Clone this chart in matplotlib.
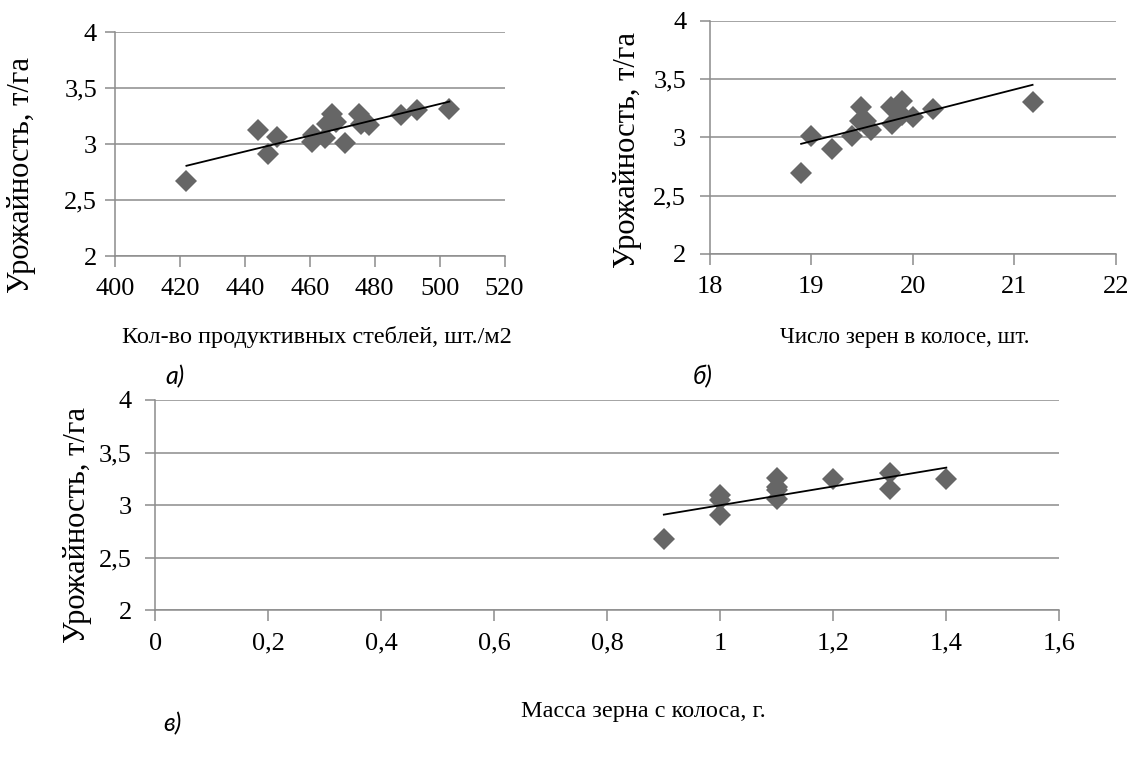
import numpy as np
import matplotlib
matplotlib.use("Agg")
import matplotlib.pyplot as plt
from matplotlib.ticker import FuncFormatter

plt.rcParams['font.family'] = 'serif'
plt.rcParams['font.serif'] = ['Liberation Serif', 'Times New Roman', 'DejaVu Serif']

# ---- data ----
stems = [422, 444, 447, 450, 460.8, 461, 464.8, 465.3, 466.9, 468, 471, 475.2, 475.7, 478.2, 488, 493, 503]
yield_a = [2.67, 3.125, 2.91, 3.065, 3.02, 3.08, 3.05, 3.18, 3.27, 3.20, 3.01, 3.27, 3.18, 3.17, 3.26, 3.30, 3.31]

grains = [18.9, 19.0, 19.2, 19.4, 19.49, 19.48, 19.54, 19.59, 19.79, 19.8, 19.89, 19.89, 20.0, 20.2, 21.18]
yield_b = [2.69, 3.01, 2.90, 3.01, 3.26, 3.14, 3.14, 3.06, 3.26, 3.11, 3.31, 3.19, 3.17, 3.24, 3.30]

mass = [0.9, 1.0, 1.0, 1.0, 1.1, 1.1, 1.1, 1.1, 1.2, 1.3, 1.3, 1.4]
yield_c = [2.68, 3.10, 3.05, 2.91, 3.26, 3.17, 3.14, 3.06, 3.25, 3.31, 3.15, 3.25]

y_ticks = [2, 2.5, 3, 3.5, 4]
xticks_a = [400, 420, 440, 460, 480, 500, 520]
xticks_b = [18, 19, 20, 21, 22]
xticks_c = [0, 0.2, 0.4, 0.6, 0.8, 1.0, 1.2, 1.4, 1.6]

ylabel = "Урожайность, т/га"
xlabel_a = "Кол-во продуктивных стеблей, шт./м2"
xlabel_b = "Число зерен в колосе, шт."
xlabel_c = "Масса зерна с колоса, г."
panel_labels = ["а)", "б)", "в)"]

GRID = '#8c8c8c'
MARK = '#666666'

def comma(v, pos):
    s = ('%g' % round(v, 6))
    return s.replace('.', ',')

fig = plt.figure(figsize=(11.32, 7.62), dpi=100)

def make(rect, xs, ys, xticks, xlabel, ypad, ylab_xy, xlab_xy, xlab_size):
    ax = fig.add_axes(rect)
    ax.set_xlim(xticks[0], xticks[-1])
    ax.set_ylim(2, 4)
    ax.set_xticks(xticks)
    ax.set_yticks(y_ticks)
    ax.xaxis.set_major_formatter(FuncFormatter(comma))
    ax.yaxis.set_major_formatter(FuncFormatter(comma))
    ax.yaxis.grid(True, color=GRID, linewidth=1.1)
    ax.set_axisbelow(True)
    for s in ['top', 'right']:
        ax.spines[s].set_visible(False)
    for s in ['left', 'bottom']:
        ax.spines[s].set_color(GRID)
        ax.spines[s].set_linewidth(1.1)
    ax.tick_params(axis='x', direction='out', length=8, width=1.1, color=GRID,
                   labelsize=19, pad=8)
    ax.tick_params(axis='y', direction='out', length=7, width=1.1, color=GRID,
                   labelsize=19, pad=ypad)
    ax.plot(xs, ys, linestyle='none', marker='D', markersize=11.5,
            color=MARK, markeredgewidth=0, zorder=3)
    k, b = np.polyfit(xs, ys, 1)
    xx = np.array([min(xs), max(xs)])
    ax.plot(xx, k * xx + b, color='black', linewidth=1.3, zorder=4)
    ax.set_ylabel(ylabel, fontsize=22)
    ax.yaxis.label.set_va('center')
    ax.yaxis.set_label_coords(*ylab_xy)
    ax.set_xlabel(xlabel, fontsize=xlab_size)
    ax.xaxis.label.set_va('center')
    ax.xaxis.set_label_coords(*xlab_xy)
    return ax

ax_a = make([0.1016, 0.664, 0.3441, 0.294], stems, yield_a, xticks_a, xlabel_a,
            6, (-0.240, 0.362), (0.5185, -0.362), 17.5)
ax_b = make([0.627, 0.6667, 0.3587, 0.3062], grains, yield_b, xticks_b, xlabel_b,
            10, (-0.202, 0.446), (0.480, -0.36), 16.5)
ax_c = make([0.1372, 0.1991, 0.7986, 0.276], mass, yield_c, xticks_c, xlabel_c,
            10, (-0.0866, 0.406), (0.5395, -0.4836), 17.5)

lab_font = dict(fontsize=18, style='italic', family=['Lato', 'DejaVu Sans'])
fig.text(165 / 1132, 1 - 377 / 762, panel_labels[0], ha='left', va='center', **lab_font)
fig.text(693 / 1132, 1 - 377 / 762, panel_labels[1], ha='left', va='center', **lab_font)
fig.text(163 / 1132, 1 - 724 / 762, panel_labels[2], ha='left', va='center', **lab_font)

fig.savefig("out.png", dpi=100)
